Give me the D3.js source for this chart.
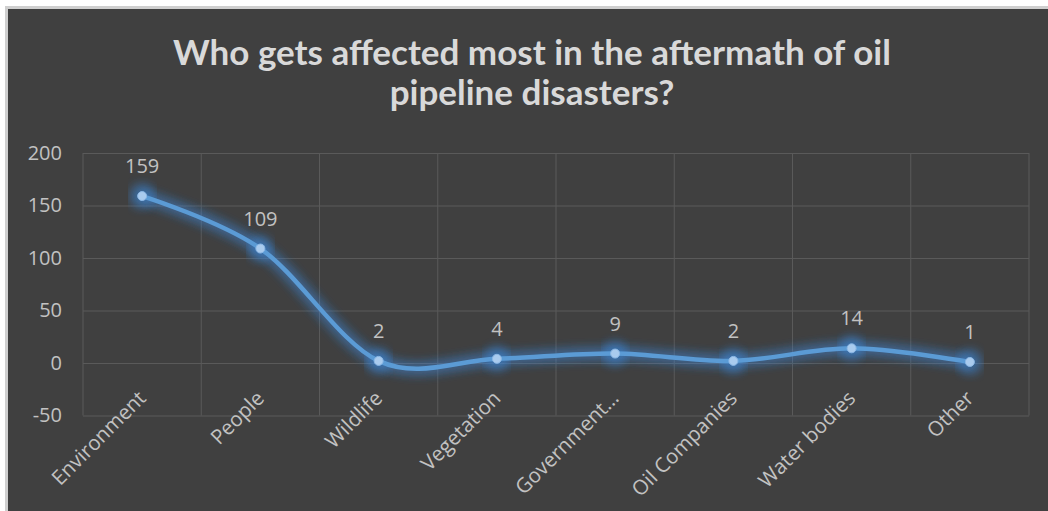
<!DOCTYPE html>
<html>
<head>
<meta charset="utf-8">
<script src="https://cdn.jsdelivr.net/npm/d3@7"></script>
<style>
  html, body { margin: 0; padding: 0; background: #ffffff; }
  svg { display: block; }
</style>
</head>
<body>
<svg id="chart" width="1048" height="511"></svg>
<script>
// Survey responses: who is affected most after oil pipeline disasters
const categories = ["Environment", "People", "Wildlife", "Vegetation", "Government\u2026", "Oil Companies", "Water bodies", "Other"];
const responses = [159, 109, 2, 4, 9, 2, 14, 1];
const yTicks = [-50, 0, 50, 100, 150, 200];
const titleLines = ["Who gets affected most in the aftermath of oil", "pipeline disasters?"];

const W = 1048, H = 511;
const svg = d3.select("#chart");

// chart panel with a thin light frame on the top and left
svg.append("rect").attr("x", 5).attr("y", 6).attr("width", W - 5).attr("height", H - 6).attr("fill", "#cfcfcf");
svg.append("rect").attr("x", 8).attr("y", 9).attr("width", W - 8).attr("height", H - 9).attr("fill", "#404040");

const plot = { left: 83, right: 1029, top: 153, bottom: 415.5 };

const x = d3.scaleBand().domain(categories).range([plot.left, plot.right]).padding(0);
const y = d3.scaleLinear().domain([-50, 200]).range([plot.bottom, plot.top]);
const cx = d => x(d) + x.bandwidth() / 2;

const labelFont = "'Open Sans', sans-serif";
const labelColor = "#c2c2c2";

// glow filter for the series line and markers
const defs = svg.append("defs");
const glow = defs.append("filter").attr("id", "glow").attr("x", "-20%").attr("y", "-50%").attr("width", "140%").attr("height", "200%");
glow.append("feGaussianBlur").attr("in", "SourceGraphic").attr("stdDeviation", 6).attr("result", "blur");
const merge = glow.append("feMerge");
merge.append("feMergeNode").attr("in", "blur");
merge.append("feMergeNode").attr("in", "blur");

// title
svg.append("g").selectAll("text").data(titleLines).join("text")
  .attr("x", 532).attr("y", (d, i) => 65 + i * 40)
  .attr("text-anchor", "middle")
  .attr("font-family", "Lato, 'Open Sans', sans-serif")
  .attr("font-weight", "bold")
  .attr("font-size", 35)
  .attr("fill", "#d9d9d9")
  .text(d => d);

// horizontal gridlines + y axis labels (plain hyphen for negatives)
const yAxis = d3.axisLeft(y).tickValues(yTicks).tickFormat(d => String(d))
  .tickSize(-(plot.right - plot.left)).tickPadding(21);
const gy = svg.append("g").attr("transform", `translate(${plot.left},0)`).call(yAxis);
gy.select(".domain").remove();
gy.selectAll(".tick line").attr("stroke", "#5a5a5a").attr("stroke-width", 1);
gy.selectAll(".tick text")
  .attr("font-family", labelFont)
  .attr("font-size", 20)
  .attr("fill", labelColor);

// vertical category gridlines
const bounds = categories.map(c => x(c)).concat([plot.right]);
svg.append("g").selectAll("line").data(bounds).join("line")
  .attr("x1", d => d).attr("x2", d => d)
  .attr("y1", plot.top).attr("y2", plot.bottom)
  .attr("stroke", "#5a5a5a").attr("stroke-width", 1);

// category labels, rotated so each one ends at its category centre
const xAxis = d3.axisBottom(x).tickSize(0).tickPadding(0);
const gx = svg.append("g").attr("transform", `translate(0,${plot.bottom})`).call(xAxis);
gx.select(".domain").remove();
gx.selectAll(".tick text")
  .attr("font-family", labelFont)
  .attr("font-size", 20.5)
  .attr("fill", labelColor)
  .attr("text-anchor", "end")
  .attr("dy", null)
  .attr("y", 0)
  .attr("transform", "translate(5,-16) rotate(-45)");

// smoothed series line
const pts = categories.map((c, i) => ({ c, v: responses[i] }));
const line = d3.line().x(d => cx(d.c)).y(d => y(d.v)).curve(d3.curveCatmullRom.alpha(0));

const series = svg.append("g");
series.append("path").datum(pts)
  .attr("d", line).attr("fill", "none")
  .attr("stroke", "#3f86d4").attr("stroke-width", 9).attr("stroke-opacity", 0.45)
  .attr("filter", "url(#glow)");
series.selectAll("circle.halo").data(pts).join("circle").attr("class", "halo")
  .attr("cx", d => cx(d.c)).attr("cy", d => y(d.v)).attr("r", 10)
  .attr("fill", "#3d86d6").attr("opacity", 0.55).attr("filter", "url(#glow)");
series.append("path").datum(pts)
  .attr("d", line).attr("fill", "none")
  .attr("stroke", "#5b9bd5").attr("stroke-width", 4.5).attr("stroke-linecap", "round");
series.selectAll("circle.pt").data(pts).join("circle").attr("class", "pt")
  .attr("cx", d => cx(d.c)).attr("cy", d => y(d.v)).attr("r", 4.5)
  .attr("fill", "#a9cbee").attr("stroke", "#8bb8e6").attr("stroke-width", 1);

// data labels
svg.append("g").selectAll("text").data(pts).join("text")
  .attr("x", d => cx(d.c)).attr("y", d => y(d.v) - 23)
  .attr("text-anchor", "middle")
  .attr("font-family", labelFont)
  .attr("font-size", 20)
  .attr("fill", labelColor)
  .text(d => d.v);
</script>
</body>
</html>
